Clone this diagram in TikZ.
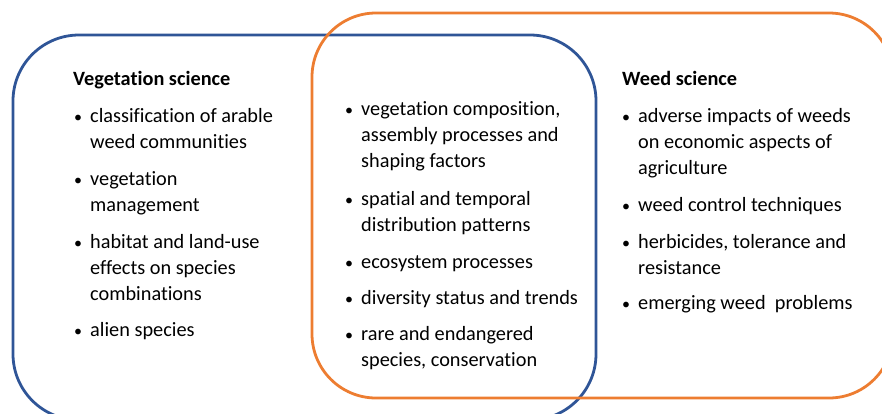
\documentclass[tikz,border=0pt]{standalone}
\usepackage{fontspec}
\setmainfont{Carlito}[Ligatures=NoCommon]
\usepackage{tikz}
\definecolor{vegblue}{HTML}{2F5597}
\definecolor{weedorange}{HTML}{ED7D31}
\newcommand{\bul}{\llap{{\fontsize{16}{16}\selectfont\textbullet}\hskip 8pt}}

\begin{document}
\begin{tikzpicture}[x=1pt, y=-1pt,
  txt/.style={anchor=base west, inner sep=0pt, align=left, font=\fontsize{20.3}{26}\selectfont},
  head/.style={txt, font=\fontsize{20.3}{26}\selectfont\bfseries}]
\path[use as bounding box, clip] (0,0) rectangle (882,413);

\draw[vegblue, line width=2.8pt, rounded corners=66pt] (13,35) rectangle (596,420);
\draw[weedorange, line width=2.8pt, rounded corners=64pt] (312,13) rectangle (893,398);

% multi-line nodes sit on the baseline of their last line
\node[head] (vegtitle) at (73,85) {Vegetation science};
\node[txt] (veg1) at (90,148) {\bul classification of arable\\weed communities};
\node[txt] (veg2) at (90,211) {\bul vegetation\\management};
\node[txt] (veg3) at (90,300) {\bul habitat and land-use\\effects on species\\combinations};
\node[txt] (veg4) at (90,336) {\bul alien species};

\node[txt] (both1) at (361,167) {\bul vegetation composition,\\assembly processes and\\shaping factors};
\node[txt] (both2) at (361,231) {\bul spatial and temporal\\distribution patterns};
\node[txt] (both3) at (361,268) {\bul ecosystem processes};
\node[txt] (both4) at (361,304) {\bul diversity status and trends};
\node[txt] (both5) at (361,366) {\bul rare and endangered\\species, conservation};

\node[head] (weedtitle) at (622,85) {Weed science};
\node[txt] (weed1) at (638,174) {\bul adverse impacts of weeds\\on economic aspects of\\agriculture};
\node[txt] (weed2) at (638,211) {\bul weed control techniques};
\node[txt] (weed3) at (638,274) {\bul herbicides, tolerance and\\resistance};
\node[txt] (weed4) at (638,309) {\bul emerging weed~ problems};

\end{tikzpicture}
\end{document}
